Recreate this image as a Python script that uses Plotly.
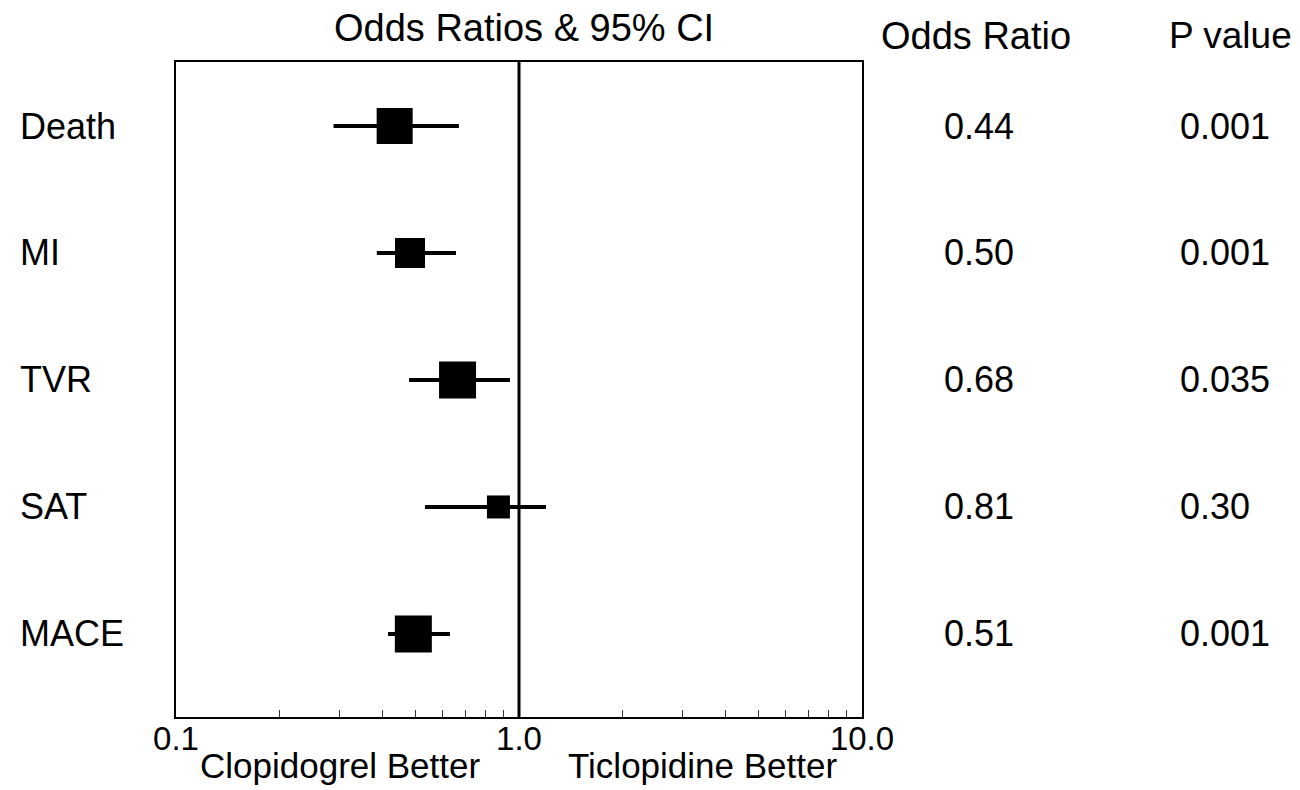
import plotly.graph_objects as go

# ---- data ----
outcomes = ["Death", "MI", "TVR", "SAT", "MACE"]
or_text = ["0.44", "0.50", "0.68", "0.81", "0.51"]
p_text = ["0.001", "0.001", "0.035", "0.30", "0.001"]
or_point = [0.434, 0.481, 0.662, 0.871, 0.492]   # plotted square centres
ci_low = [0.288, 0.385, 0.478, 0.532, 0.415]
ci_high = [0.668, 0.655, 0.941, 1.199, 0.629]
box_sizes = [36, 30, 37, 23, 37]
tick_vals = [0.1, 1.0, 10.0]
tick_text = ["0.1", "1.0", "10.0"]
minor_vals = [0.2, 0.3, 0.4, 0.5, 0.6, 0.7, 0.8, 0.9, 2, 3, 4, 5, 6, 7, 8, 9]

FONT = "Liberation Sans, Arial, sans-serif"
rows = list(range(len(outcomes)))

fig = go.Figure()

# whiskers
wx, wy = [], []
for i, (lo, hi) in enumerate(zip(ci_low, ci_high)):
    wx += [lo, hi, None]
    wy += [i, i, None]
fig.add_trace(go.Scatter(x=wx, y=wy, mode="lines",
                         line=dict(color="black", width=4),
                         hoverinfo="skip", showlegend=False))

# squares
fig.add_trace(go.Scatter(x=or_point, y=rows, mode="markers",
                         marker=dict(symbol="square", size=box_sizes,
                                     color="black", opacity=1,
                                     line=dict(width=0)),
                         showlegend=False))

# reference line at 1.0
fig.add_shape(type="line", xref="x", yref="paper", x0=1, x1=1, y0=0, y1=1,
              line=dict(color="black", width=3))

ann = []
for i, name in enumerate(outcomes):
    ann.append(dict(text=name, xref="paper", yref="y", x=-0.2303, y=i,
                    xanchor="left", yanchor="middle", showarrow=False,
                    font=dict(size=36, color="black", family=FONT)))
    ann.append(dict(text=or_text[i], xref="paper", yref="y", x=1.1166, y=i,
                    xanchor="left", yanchor="middle", showarrow=False,
                    font=dict(size=36, color="black", family=FONT)))
    ann.append(dict(text=p_text[i], xref="paper", yref="y", x=1.4606, y=i,
                    xanchor="left", yanchor="middle", showarrow=False,
                    font=dict(size=36, color="black", family=FONT)))

ann.append(dict(text="Odds Ratios &amp; 95% CI", xref="paper", yref="paper",
                x=0.5073, y=1.052, xanchor="center", yanchor="middle",
                showarrow=False, font=dict(size=38, color="black", family=FONT)))
ann.append(dict(text="Odds Ratio", xref="paper", yref="paper",
                x=1.1669, y=1.040, xanchor="center", yanchor="middle",
                showarrow=False, font=dict(size=38, color="black", family=FONT)))
ann.append(dict(text="P value", xref="paper", yref="paper",
                x=1.5379, y=1.040, xanchor="center", yanchor="middle",
                showarrow=False, font=dict(size=37, color="black", family=FONT)))
ann.append(dict(text="Clopidogrel Better", xref="paper", yref="paper",
                x=0.2391, y=-0.0733, xanchor="center", yanchor="middle",
                showarrow=False, font=dict(size=35, color="black", family=FONT)))
ann.append(dict(text="Ticlopidine Better", xref="paper", yref="paper",
                x=0.7675, y=-0.0733, xanchor="center", yanchor="middle",
                showarrow=False, font=dict(size=35, color="black", family=FONT)))

# page body has an 8px margin: size figure so plot area lands at x 176-862, y 62-717
fig.update_layout(
    width=1292, height=782,
    margin=dict(l=168, r=438, t=54, b=73),
    paper_bgcolor="white", plot_bgcolor="white",
    annotations=ann,
    xaxis=dict(type="log", range=[-1, 1], tickvals=tick_vals, ticktext=tick_text,
               ticks="", showgrid=False, zeroline=False,
               showline=True, mirror=True, linecolor="black", linewidth=2,
               ticklabelstandoff=-9,
               tickfont=dict(size=33, color="black", family=FONT),
               minor=dict(tickvals=minor_vals, ticks="inside", ticklen=7,
                          tickwidth=1, tickcolor="#333", showgrid=False)),
    yaxis=dict(range=[4.654, -0.504], showticklabels=False, ticks="",
               showgrid=False, zeroline=False,
               showline=True, mirror=True, linecolor="black", linewidth=2),
)

fig.write_html("out.html")
